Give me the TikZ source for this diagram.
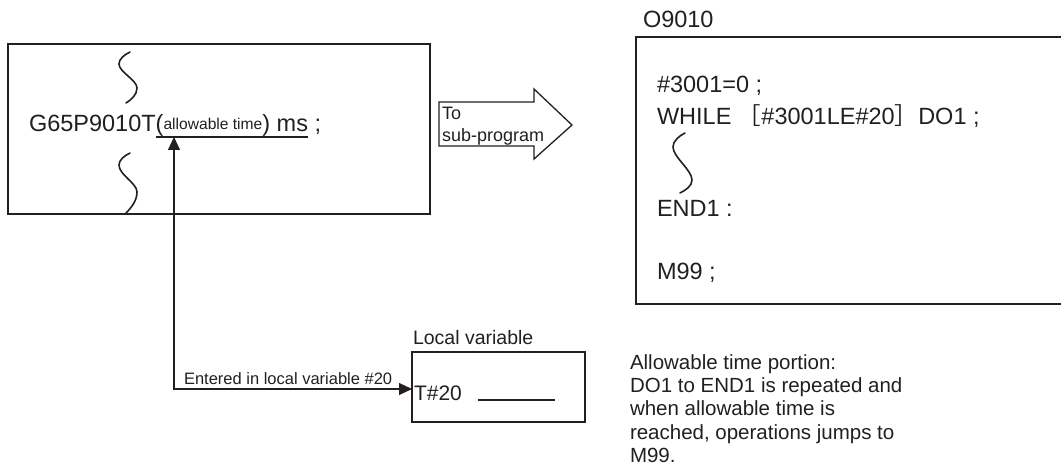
\documentclass[tikz,border=0pt]{standalone}
\usepackage{fontspec}
\setmainfont{Liberation Sans}
\newfontfamily\cjk{Noto Sans CJK JP}
\usetikzlibrary{arrows.meta,calc}
\definecolor{ink}{HTML}{231F20}
\begin{document}
\begin{tikzpicture}[x=1bp,y=-1bp,
  txt/.style={anchor=base west,inner sep=0,outer sep=0,text=ink},
  big/.style={txt,font=\fontsize{23.5bp}{28bp}\selectfont},
  small/.style={txt,font=\fontsize{15.6bp}{18bp}\selectfont},
  note/.style={txt,font=\fontsize{20.5bp}{23bp}\selectfont},
  lbl/.style={txt,font=\fontsize{16.5bp}{20bp}\selectfont},
  lvl/.style={txt,font=\fontsize{19.5bp}{23bp}\selectfont},
  tvl/.style={txt,font=\fontsize{21bp}{25bp}\selectfont},
  arl/.style={txt,font=\fontsize{18bp}{21bp}\selectfont},
  frame/.style={draw=ink,line width=1.6bp,inner sep=0,outer sep=0},
  squig/.style={draw=ink,line width=1.6bp,line cap=round},
  conn/.style={draw=ink,line width=1.2bp,{Triangle[length=13bp,width=12bp]}-{Triangle[length=13bp,width=12bp]}},
  blockarrow/.style={draw=ink,line width=1.3bp,line join=miter},
]
\useasboundingbox (0,0) rectangle (1061,476);

% ---------- left box ----------
\node[frame,anchor=north west,minimum width=422bp,minimum height=170bp] (lbox) at (8,44) {};
\draw[squig] (130,52) .. controls (124,55) and (119,59) .. (119,64)
  .. controls (119,72) and (137,80) .. (137,88)
  .. controls (137,95) and (131,100) .. (126,103);
\draw[squig] (130,153) .. controls (124,156) and (119,160) .. (119,165)
  .. controls (119,175) and (137,183) .. (137,192)
  .. controls (137,201) and (131,208) .. (126,213);

\node[big] (g) at (29,132) {G65P9010T};
\node[big] (lp) at (g.base east) {(};
\node[small] (allow) at ([yshift=2bp]lp.base east) {allowable time};
\node[big] (rp) at (allow.base east |- g.base) {)};
\node[big] (ms) at ([xshift=6.5bp]rp.base east) {ms};
\node[big] (semi) at (ms.base east) {\ ;};
\coordinate (ulL) at ([yshift=-5bp]lp.base west);
\coordinate (ulR) at ([yshift=-5bp]ms.base east);
\draw[ink,line width=1.2bp] (ulL) -- (ulR);
\coordinate (ua) at (174,137);

% ---------- block arrow ----------
\draw[blockarrow] (439,102) coordinate (ba1) -- (534,102) -- (534,89) -- (572,125) coordinate (batip)
  -- (534,159) -- (534,146) -- (439,146) -- cycle;
\node[arl] (to) at (442,120) {To};
\node[arl] (sub) at (442,142) {sub-program};

% ---------- right box ----------
\node[big] (o9010) at (643,28) {O9010};
\draw[ink,line width=1.6bp] (1061,37) coordinate (rb1) -- (636,37) -- (636,304) -- (1061,304);
\node[big] (c1) at (657,93) {\#3001=0 ;};
\node[big] (c2) at (657,125) {WHILE {\cjk［}\#3001LE\#20{\cjk］}DO1 ;};
\draw[squig] (685,133) .. controls (679,136) and (673,141) .. (673,147)
  .. controls (673,157) and (692,170) .. (692,180)
  .. controls (692,186) and (686,190) .. (680,193);
\node[big] (c3) at (657,217) {END1 :};
\node[big] (c4) at (657,280) {M99 ;};

% ---------- local variable ----------
\node[lvl] (lvt) at (413,345) {Local variable};
\node[frame,anchor=north west,minimum width=173bp,minimum height=70bp] (lv) at (412,352) {};
\node[tvl] (t20) at (414,401) {T\#20};
\draw[ink,line width=1.1bp] ([shift={(16bp,1bp)}]t20.base east) -- ++(77,0);

\draw[conn] (ua) |- ([yshift=-2bp]lv.west);
\node[lbl] (entered) at (184,385) {Entered in local variable \#20};

% ---------- note ----------
\node[note] (n1) at (630,370) {Allowable time portion:};
\node[note] (n2) at (630,393) {DO1 to END1 is repeated and};
\node[note] (n3) at (630,416) {when allowable time is};
\node[note] (n4) at (630,439) {reached, operations jumps to};
\node[note] (n5) at (630,462) {M99.};
\end{tikzpicture}
\end{document}
